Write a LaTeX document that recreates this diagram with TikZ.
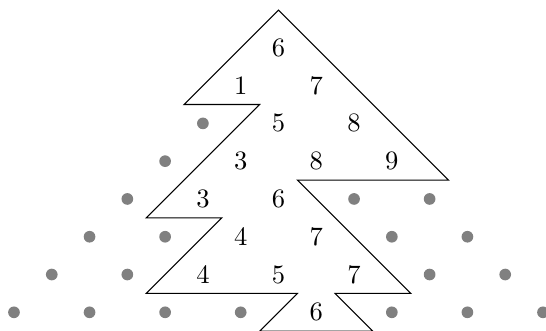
\documentclass[tikz,border=0pt]{standalone}
\usepackage{amsmath,amssymb}
\usepackage{xcolor}
\usepackage{tikz}

\begin{document}
\begin{tikzpicture}[
  x=5mm, y=5mm,
  num/.style={inner sep=0pt},
  pt/.style={circle, fill=gray, draw=none, inner sep=0pt, minimum size=4.4pt},
  tree/.style={draw=black, line width=0.4pt}
]
\useasboundingbox (-7.37,-7.49) rectangle (7.08,1.265);

% row 0
\node[num] (a0) at (0,0) {6};
% row 1
\node[num] (b1) at (-1,-1) {1};
\node[num] (b2) at (1,-1) {7};
% row 2
\node[pt] (c1) at (-2,-2) {};
\node[num] (c2) at (0,-2) {5};
\node[num] (c3) at (2,-2) {8};
% row 3
\node[pt] (d1) at (-3,-3) {};
\node[num] (d2) at (-1,-3) {3};
\node[num] (d3) at (1,-3) {8};
\node[num] (d4) at (3,-3) {9};
% row 4
\node[pt] (e1) at (-4,-4) {};
\node[num] (e2) at (-2,-4) {3};
\node[num] (e3) at (0,-4) {6};
\node[pt] (e4) at (2,-4) {};
\node[pt] (e5) at (4,-4) {};
% row 5
\node[pt] (f1) at (-5,-5) {};
\node[pt] (f2) at (-3,-5) {};
\node[num] (f3) at (-1,-5) {4};
\node[num] (f4) at (1,-5) {7};
\node[pt] (f5) at (3,-5) {};
\node[pt] (f6) at (5,-5) {};
% row 6
\node[pt] (g1) at (-6,-6) {};
\node[pt] (g2) at (-4,-6) {};
\node[num] (g3) at (-2,-6) {4};
\node[num] (g4) at (0,-6) {5};
\node[num] (g5) at (2,-6) {7};
\node[pt] (g6) at (4,-6) {};
\node[pt] (g7) at (6,-6) {};
% row 7
\node[pt] (h1) at (-7,-7) {};
\node[pt] (h2) at (-5,-7) {};
\node[pt] (h3) at (-3,-7) {};
\node[pt] (h4) at (-1,-7) {};
\node[num] (h5) at (1,-7) {6};
\node[pt] (h6) at (3,-7) {};
\node[pt] (h7) at (5,-7) {};
\node[pt] (h8) at (7,-7) {};

% outline of the tree
\draw[tree] (0,1) -- (-2.5,-1.5) -- (-0.5,-1.5) -- (-3.5,-4.5) -- (-1.5,-4.5)
  -- (-3.5,-6.5) -- (0.5,-6.5) -- (-0.5,-7.5) -- (2.5,-7.5) -- (1.5,-6.5)
  -- (3.5,-6.5) -- (0.5,-3.5) -- (4.5,-3.5) -- cycle;
\end{tikzpicture}
\end{document}
